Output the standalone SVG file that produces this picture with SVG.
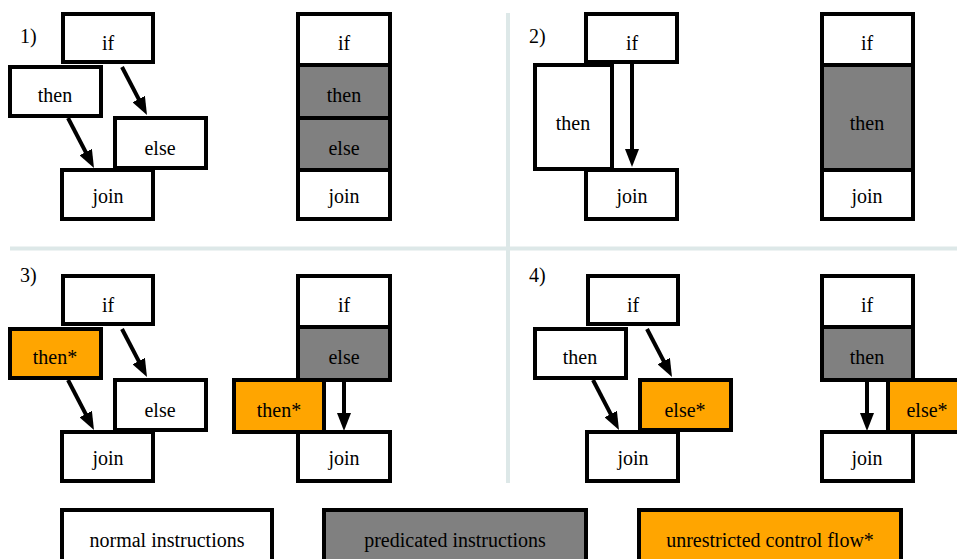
<svg xmlns="http://www.w3.org/2000/svg" width="957" height="559" viewBox="0 0 957 559" font-family="'Liberation Serif', 'DejaVu Serif', serif">
<style>
.b{stroke:#000;stroke-width:4;fill:#fff}
.p{fill:#808080}
.o{fill:#ffa500}
text{font-family:'Liberation Serif','DejaVu Serif',serif;font-size:20px;fill:#000}
.t{text-anchor:middle}
.a{stroke:#000;stroke-width:4;fill:none;marker-end:url(#ah)}
.d{stroke:#dde8e8;stroke-width:4}
</style>
<defs>
<marker id="ah" markerUnits="userSpaceOnUse" markerWidth="18" markerHeight="14" refX="10" refY="7" orient="auto">
<path d="M0,0 L18,7 L0,14 z" fill="#000"/>
</marker>
</defs>
<rect width="957" height="559" fill="#fff"/>
<g id="dividers">
<line class="d" x1="508" y1="13" x2="508" y2="483"/>
<line class="d" x1="10" y1="248.5" x2="957" y2="248.5"/>
</g>
<g id="labels">
<text x="20" y="43">1)</text>
<text x="529" y="43">2)</text>
<text x="20" y="282">3)</text>
<text x="529" y="282">4)</text>
</g>
<!-- Panel 1 left -->
<g id="p1-if"><rect class="b" x="63" y="14" width="90" height="48"/><text class="t" x="108" y="50">if</text></g>
<g id="p1-then"><rect class="b" x="10" y="67" width="91" height="49"/><text class="t" x="55" y="102">then</text></g>
<g id="p1-else"><rect class="b" x="115" y="118" width="91" height="50"/><text class="t" x="160" y="155">else</text></g>
<g id="p1-join"><rect class="b" x="62" y="170" width="91" height="49"/><text class="t" x="108" y="203">join</text></g>
<!-- Panel 1 right -->
<g id="p1r-if"><rect class="b" x="298" y="14" width="92" height="51"/><text class="t" x="344" y="50">if</text></g>
<g id="p1r-then"><rect class="b p" x="298" y="65" width="92" height="53"/><text class="t" x="344" y="102">then</text></g>
<g id="p1r-else"><rect class="b p" x="298" y="118" width="92" height="52"/><text class="t" x="344" y="155">else</text></g>
<g id="p1r-join"><rect class="b" x="298" y="170" width="92" height="49"/><text class="t" x="344" y="203">join</text></g>
<!-- Panel 2 left -->
<g id="p2-if"><rect class="b" x="586" y="14" width="91" height="48"/><text class="t" x="632" y="50">if</text></g>
<g id="p2-then"><rect class="b" x="535" y="65" width="77" height="104"/><text class="t" x="573" y="130">then</text></g>
<g id="p2-join"><rect class="b" x="586" y="170" width="91" height="49"/><text class="t" x="632" y="203">join</text></g>
<!-- Panel 2 right -->
<g id="p2r-if"><rect class="b" x="822" y="14" width="91" height="51"/><text class="t" x="867" y="50">if</text></g>
<g id="p2r-then"><rect class="b p" x="822" y="65" width="91" height="105"/><text class="t" x="867" y="130">then</text></g>
<g id="p2r-join"><rect class="b" x="822" y="170" width="91" height="49"/><text class="t" x="867" y="203">join</text></g>
<!-- Panel 3 left -->
<g id="p3-if"><rect class="b" x="63" y="276" width="90" height="48"/><text class="t" x="108" y="312">if</text></g>
<g id="p3-then"><rect class="b o" x="10" y="329" width="91" height="49"/><text class="t" x="55" y="364">then*</text></g>
<g id="p3-else"><rect class="b" x="115" y="380" width="91" height="50"/><text class="t" x="160" y="417">else</text></g>
<g id="p3-join"><rect class="b" x="62" y="432" width="91" height="49"/><text class="t" x="108" y="465">join</text></g>
<!-- Panel 3 right -->
<g id="p3r-if"><rect class="b" x="298" y="276" width="92" height="51"/><text class="t" x="344" y="312">if</text></g>
<g id="p3r-else"><rect class="b p" x="298" y="327" width="92" height="53"/><text class="t" x="344" y="364">else</text></g>
<g id="p3r-then"><rect class="b o" x="234" y="380" width="90" height="52"/><text class="t" x="279" y="417">then*</text></g>
<g id="p3r-join"><rect class="b" x="298" y="432" width="92" height="49"/><text class="t" x="344" y="465">join</text></g>
<!-- Panel 4 left -->
<g id="p4-if"><rect class="b" x="588" y="276" width="90" height="48"/><text class="t" x="633" y="312">if</text></g>
<g id="p4-then"><rect class="b" x="535" y="329" width="91" height="49"/><text class="t" x="580" y="364">then</text></g>
<g id="p4-else"><rect class="b o" x="640" y="380" width="91" height="50"/><text class="t" x="685" y="417">else*</text></g>
<g id="p4-join"><rect class="b" x="587" y="432" width="91" height="49"/><text class="t" x="633" y="465">join</text></g>
<!-- Panel 4 right -->
<g id="p4r-if"><rect class="b" x="822" y="276" width="91" height="51"/><text class="t" x="867" y="312">if</text></g>
<g id="p4r-then"><rect class="b p" x="822" y="327" width="91" height="53"/><text class="t" x="867" y="364">then</text></g>
<g id="p4r-else"><rect class="b o" x="888" y="380" width="80" height="52"/><text class="t" x="927" y="417">else*</text></g>
<g id="p4r-join"><rect class="b" x="822" y="432" width="91" height="49"/><text class="t" x="867" y="465">join</text></g>
<!-- Legend -->
<g id="legend-normal"><rect class="b" x="62" y="510" width="210" height="60"/><text class="t" x="167" y="547">normal instructions</text></g>
<g id="legend-predicated"><rect class="b p" x="324" y="510" width="262" height="60"/><text class="t" x="455" y="547">predicated instructions</text></g>
<g id="legend-unrestricted"><rect class="b o" x="639" y="510" width="262" height="60"/><text class="t" x="770" y="547">unrestricted control flow*</text></g>
<g id="connectors">
<line class="a" x1="122" y1="67" x2="143.3" y2="107.9"/>
<line class="a" x1="68" y1="118" x2="90.3" y2="160.9"/>
<line class="a" x1="632" y1="64" x2="632" y2="159"/>
<line class="a" x1="122" y1="329" x2="143.3" y2="369.9"/>
<line class="a" x1="68" y1="380" x2="90.3" y2="422.9"/>
<line class="a" x1="344" y1="381" x2="344" y2="423"/>
<line class="a" x1="647" y1="329" x2="668.3" y2="369.9"/>
<line class="a" x1="593" y1="380" x2="615.3" y2="422.9"/>
<line class="a" x1="867" y1="381" x2="867" y2="423"/>
</g>
</svg>
